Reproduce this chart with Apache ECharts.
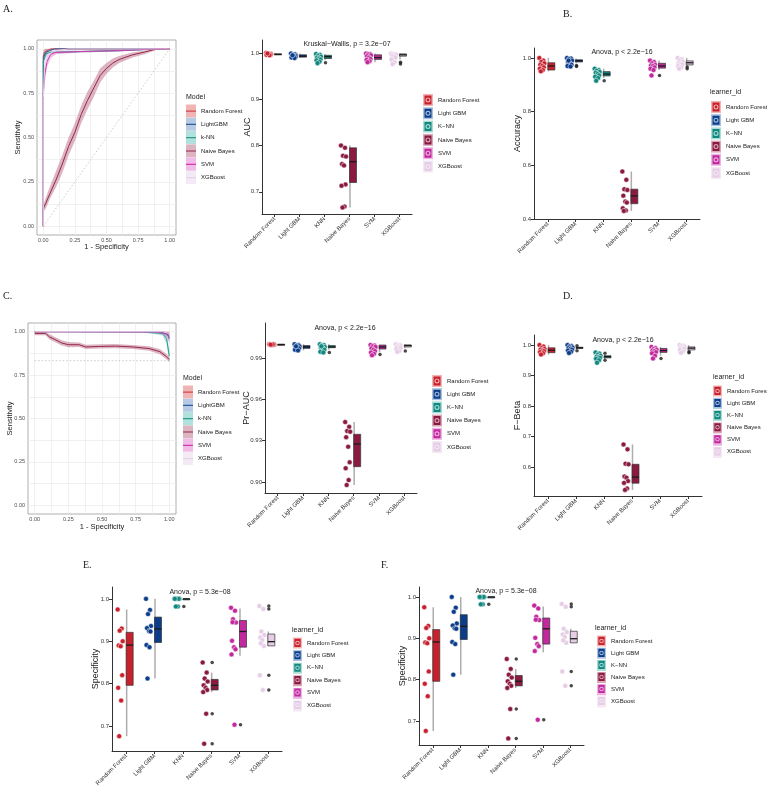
<!DOCTYPE html>
<html>
<head>
<meta charset="utf-8">
<script src="https://cdn.jsdelivr.net/npm/echarts@6/dist/echarts.min.js"></script>
<style>
  html, body { margin: 0; padding: 0; background: #fff; }
  #chart { width: 767px; height: 791px; }
</style>
</head>
<body>
<div id="chart"></div>
<script>
// ---- names ----
var rocModels = ['Random Forest', 'LightGBM', 'k-NN', 'Naive Bayes', 'SVM', 'XGBoost'];
var learners = ['Random Forest', 'Light GBM', 'K\u2212NN', 'Naive Bayes', 'SVM', 'XGBoost'];
var boxCats = ['Random Forest', 'Light GBM', 'KNN', 'Naive Bayes', 'SVM', 'XGBoost'];

// ---- ROC curves, each point [1-spec, sens, lower, upper] ----
var rocA_rf = [[0, 0, 0, 0], [0, 0.96, 0.93, 0.99], [0.01, 0.98, 0.96, 1], [0.03, 0.99, 0.98, 1], [0.06, 1, 0.995, 1], [1, 1, 1, 1]];
var rocA_lgbm = [[0, 0, 0, 0], [0, 0.95, 0.92, 0.98], [0.02, 0.98, 0.96, 0.995], [0.05, 0.99, 0.98, 1], [0.09, 1, 1, 1], [1, 1, 1, 1]];
var rocA_knn = [[0, 0, 0, 0], [0, 0.93, 0.9, 0.96], [0.02, 0.97, 0.95, 0.985], [0.05, 0.98, 0.975, 0.99], [0.3, 0.985, 0.98, 0.99], [0.6, 0.99, 0.985, 0.995], [0.85, 0.997, 0.995, 1], [1, 1, 1, 1]];
var rocA_nb = [[0, 0, 0, 0], [0, 0.1, 0.08, 0.12], [0.02, 0.13, 0.1, 0.16], [0.05, 0.18, 0.15, 0.22], [0.1, 0.26, 0.22, 0.31],
  [0.15, 0.35, 0.3, 0.4], [0.2, 0.45, 0.4, 0.5], [0.25, 0.53, 0.48, 0.58], [0.3, 0.63, 0.58, 0.68], [0.35, 0.71, 0.66, 0.76],
  [0.4, 0.78, 0.73, 0.82], [0.45, 0.85, 0.81, 0.89], [0.5, 0.89, 0.86, 0.92], [0.55, 0.92, 0.895, 0.945], [0.6, 0.94, 0.92, 0.96],
  [0.7, 0.965, 0.95, 0.98], [0.8, 0.982, 0.97, 0.99], [0.9, 1, 0.995, 1], [1, 1, 1, 1]];
var rocA_svm = [[0, 0, 0, 0], [0, 0.75, 0.7, 0.82], [0.01, 0.85, 0.8, 0.9], [0.03, 0.93, 0.9, 0.96], [0.06, 0.97, 0.95, 0.985], [0.1, 0.98, 0.97, 0.99], [0.3, 0.985, 0.98, 0.99], [0.6, 0.99, 0.985, 0.995], [0.85, 0.998, 0.995, 1], [1, 1, 1, 1]];
var rocA_xgb = [[0, 0, 0, 0], [0, 0.72, 0.6, 0.85], [0.01, 0.9, 0.85, 0.95], [0.04, 0.97, 0.95, 0.99], [0.1, 0.99, 0.98, 1], [0.2, 1, 1, 1], [1, 1, 1, 1]];

var rocC_rf = [[0, 1, 1, 1], [0.9, 1, 1, 1], [0.98, 0.995, 0.99, 1], [1, 0.99, 0.98, 1]];
var rocC_lgbm = [[0, 1, 1, 1], [0.85, 1, 0.998, 1], [0.95, 0.995, 0.99, 1], [0.99, 0.985, 0.97, 0.995], [1, 0.96, 0.93, 0.99]];
var rocC_knn = [[0, 1, 1, 1], [0.8, 0.998, 0.995, 1], [0.95, 0.99, 0.98, 0.995], [0.98, 0.96, 0.93, 0.98], [1, 0.86, 0.83, 0.9]];
var rocC_nb = [[0, 0.99, 0.98, 1], [0.08, 0.99, 0.98, 1], [0.11, 0.97, 0.955, 0.985], [0.15, 0.955, 0.94, 0.97], [0.2, 0.935, 0.92, 0.95],
  [0.25, 0.925, 0.91, 0.94], [0.33, 0.925, 0.912, 0.938], [0.38, 0.912, 0.9, 0.925], [0.48, 0.915, 0.903, 0.927], [0.6, 0.917, 0.905, 0.929],
  [0.73, 0.912, 0.9, 0.924], [0.85, 0.903, 0.89, 0.916], [0.93, 0.885, 0.87, 0.9], [0.98, 0.856, 0.84, 0.872], [1, 0.84, 0.825, 0.855]];
var rocC_svm = [[0, 1, 1, 1], [0.9, 0.998, 0.995, 1], [0.97, 0.99, 0.98, 1], [1, 0.97, 0.94, 0.99]];
var rocC_xgb = [[0, 1, 1, 1], [0.95, 1, 1, 1], [1, 0.99, 0.98, 1]];
var prBaseline = 0.833;

// ---- per-fold scores: RF, LGBM, KNN, NB, SVM, XGB ----
var aucPts = [
  [1.000, 0.999, 0.998, 0.998, 0.997, 0.997, 0.996, 0.996, 0.995, 0.999],
  [0.999, 0.997, 0.996, 0.994, 0.993, 0.992, 0.991, 0.990, 0.989, 0.995],
  [0.998, 0.996, 0.994, 0.992, 0.990, 0.988, 0.986, 0.984, 0.981, 0.978],
  [0.800, 0.795, 0.778, 0.776, 0.760, 0.757, 0.716, 0.713, 0.668, 0.666],
  [0.999, 0.998, 0.997, 0.995, 0.993, 0.990, 0.987, 0.985, 0.982, 0.980],
  [0.999, 0.998, 0.997, 0.996, 0.995, 0.993, 0.990, 0.986, 0.980, 0.976]
];
var aucBox = [[0.995, 0.996, 0.997, 0.998, 1.0], [0.989, 0.991, 0.993, 0.996, 0.999], [0.984, 0.988, 0.992, 0.995, 0.998],
  [0.666, 0.72, 0.765, 0.795, 0.800], [0.980, 0.986, 0.990, 0.996, 0.999], [0.986, 0.993, 0.996, 0.998, 0.999]];
var aucOut = [[2, 0.979], [5, 0.980], [5, 0.976]];

var accPts = [
  [1.0, 0.99, 0.985, 0.98, 0.975, 0.97, 0.965, 0.96, 0.955, 0.95],
  [1.0, 0.998, 0.995, 0.99, 0.985, 0.98, 0.975, 0.97, 0.968, 0.99],
  [0.96, 0.955, 0.952, 0.948, 0.945, 0.94, 0.935, 0.93, 0.925, 0.915],
  [0.577, 0.546, 0.511, 0.508, 0.487, 0.465, 0.461, 0.44, 0.432, 0.43],
  [0.99, 0.985, 0.98, 0.975, 0.972, 0.97, 0.965, 0.96, 0.955, 0.935],
  [1.0, 0.995, 0.99, 0.985, 0.98, 0.978, 0.975, 0.97, 0.965, 0.96]
];
var accBox = [[0.95, 0.955, 0.97, 0.982, 1.0], [0.98, 0.985, 0.99, 0.993, 0.998], [0.925, 0.933, 0.94, 0.949, 0.96],
  [0.43, 0.457, 0.486, 0.511, 0.577], [0.955, 0.962, 0.97, 0.98, 0.99], [0.97, 0.974, 0.982, 0.989, 1.0]];
var accOut = [[1, 0.972], [1, 0.968], [2, 0.915], [4, 0.935], [5, 0.966], [5, 0.96]];

var prPts = [
  [1.0, 1.0, 0.9998, 0.9997, 0.9996, 0.9995, 1.0, 0.9999, 0.9998, 0.9997],
  [1.0, 0.9995, 0.999, 0.9985, 0.998, 0.9975, 0.997, 0.996, 0.9955, 0.9985],
  [1.0, 0.9995, 0.999, 0.998, 0.9975, 0.997, 0.996, 0.9945, 0.994, 0.9985],
  [0.9435, 0.940, 0.937, 0.9365, 0.9325, 0.9256, 0.9143, 0.910, 0.9014, 0.8978],
  [0.9995, 0.999, 0.9985, 0.998, 0.997, 0.996, 0.995, 0.994, 0.993, 0.992],
  [1.0, 0.9995, 0.999, 0.9985, 0.998, 0.9975, 0.997, 0.9965, 0.995, 0.9945]
];
var prBox = [[0.9995, 0.9997, 0.9998, 0.9999, 1.0], [0.9955, 0.997, 0.998, 0.999, 1.0], [0.996, 0.9975, 0.998, 0.999, 1.0],
  [0.8978, 0.9111, 0.9276, 0.9346, 0.9435], [0.994, 0.9965, 0.998, 0.9994, 0.9995], [0.997, 0.998, 0.999, 0.9995, 1.0]];
var prOut = [[2, 0.994], [4, 0.9925], [5, 0.995]];

var fbPts = [
  [1.0, 0.995, 0.99, 0.987, 0.985, 0.982, 0.98, 0.977, 0.973, 0.969],
  [1.0, 0.997, 0.995, 0.992, 0.99, 0.988, 0.985, 0.982, 0.978, 0.974],
  [0.976, 0.972, 0.968, 0.965, 0.962, 0.96, 0.958, 0.955, 0.95, 0.942],
  [0.674, 0.658, 0.611, 0.609, 0.569, 0.565, 0.554, 0.548, 0.53, 0.525],
  [0.994, 0.99, 0.987, 0.985, 0.982, 0.98, 0.977, 0.973, 0.965, 0.956],
  [1.0, 0.998, 0.996, 0.994, 0.992, 0.99, 0.988, 0.985, 0.98, 0.975]
];
var fbBox = [[0.969, 0.975, 0.983, 0.991, 1.0], [0.986, 0.989, 0.991, 0.993, 0.995], [0.955, 0.958, 0.962, 0.965, 0.968],
  [0.525, 0.547, 0.567, 0.609, 0.674], [0.965, 0.976, 0.982, 0.989, 0.994], [0.982, 0.984, 0.99, 0.994, 1.0]];
var fbOut = [[1, 0.998], [1, 0.981], [2, 0.973], [2, 0.95], [4, 0.956], [5, 0.978], [5, 0.975]];

var specPts = [
  [0.975, 0.93, 0.925, 0.9, 0.89, 0.888, 0.82, 0.79, 0.76, 0.676],
  [1.0, 0.974, 0.964, 0.936, 0.931, 0.924, 0.923, 0.891, 0.886, 0.812],
  [1.0, 1.0, 1.0, 1.0, 1.0, 1.0, 1.0, 1.0, 0.982, 0.982],
  [0.85, 0.826, 0.812, 0.805, 0.796, 0.79, 0.785, 0.78, 0.729, 0.658],
  [0.979, 0.972, 0.952, 0.944, 0.901, 0.886, 0.881, 0.869, 0.703, 0.945],
  [0.983, 0.976, 0.923, 0.915, 0.909, 0.903, 0.889, 0.82, 0.785, 0.895]
];
var specBox = [[0.676, 0.796, 0.891, 0.921, 0.975], [0.812, 0.897, 0.929, 0.957, 1.0], [1.0, 1.0, 1.0, 1.0, 1.0],
  [0.78, 0.785, 0.796, 0.81, 0.826], [0.866, 0.886, 0.923, 0.949, 0.977], [0.889, 0.889, 0.899, 0.917, 0.923]];
var specOut = [[2, 0.982], [3, 0.85], [3, 0.729], [3, 0.658], [4, 0.703], [5, 0.983], [5, 0.976], [5, 0.82], [5, 0.785]];

// ---- tick labels ----
var rocTicks = [0, 0.25, 0.5, 0.75, 1];
var rocGridVals = [0, 0.125, 0.25, 0.375, 0.5, 0.625, 0.75, 0.875, 1];
var aucTicks = [0.7, 0.8, 0.9, 1.0];
var accTicks = [0.4, 0.6, 0.8, 1.0];
var prTicks = [0.90, 0.93, 0.96, 0.99];
var fbTicks = [0.6, 0.7, 0.8, 0.9, 1.0];
var specTicks = [0.7, 0.8, 0.9, 1.0];

// ---- styles ----
var SANS = '"Liberation Sans",Arial,sans-serif';
var SERIF = '"Liberation Serif",serif';
var rocLine = ['#d9434a', '#2c5d9c', '#2a9d8f', '#952848', '#d43aae', '#e6d2ea'];
var rocBand = ['rgba(226,120,120,0.55)', 'rgba(110,150,200,0.5)', 'rgba(100,195,185,0.5)', 'rgba(180,90,120,0.45)', 'rgba(225,120,205,0.5)', 'rgba(236,220,238,0.6)'];
var boxColors = ['#c8202c', '#0b3d8a', '#10887f', '#8b1a40', '#c2299d', '#e6cde6'];
var lightColors = ['#f2b4b4', '#a9c1de', '#abdcd6', '#d9a9ba', '#ecb2e2', '#f3e8f3'];
var jitter = [-2.5, 1.5, -0.5, 2.5, -1.5, 0.5, 2, -2, 1, -1];

function renderBox(params, api) {
  var i = api.value(0);
  var lo = api.coord([i, api.value(1)]);
  var q1 = api.coord([i, api.value(2)]);
  var md = api.coord([i, api.value(3)]);
  var q3 = api.coord([i, api.value(4)]);
  var hi = api.coord([i, api.value(5)]);
  var x0 = lo[0], w = 7;
  return {
    type: 'group',
    children: [
      {type: 'line', shape: {x1: x0 + 0.5, y1: hi[1], x2: x0 + 0.5, y2: lo[1]}, style: {stroke: '#adadad', lineWidth: 1.5}},
      {type: 'rect', shape: {x: x0, y: q3[1], width: w, height: Math.max(q1[1] - q3[1], 1)}, style: {fill: boxColors[i], stroke: '#333', lineWidth: 0.7}},
      {type: 'line', shape: {x1: x0, y1: md[1], x2: x0 + w, y2: md[1]}, style: {stroke: '#1a1a1a', lineWidth: 1.3}}
    ]
  };
}

function boxPanel(gi, pts, box, outl) {
  var s = [{
    type: 'custom', xAxisIndex: gi, yAxisIndex: gi, silent: true, z: 2,
    data: box.map(function (b, i) { return [i].concat(b); }),
    encode: {x: 0, y: [1, 2, 3, 4, 5]},
    renderItem: renderBox
  }];
  pts.forEach(function (arr, i) {
    s.push({
      type: 'scatter', name: learners[i], xAxisIndex: gi, yAxisIndex: gi, symbolSize: 5, z: 3, silent: true,
      itemStyle: {color: boxColors[i], borderColor: '#fff', borderWidth: 0.5, opacity: 1},
      data: arr.map(function (v, k) { return {value: [i, v], symbolOffset: [-6 + jitter[k % jitter.length], 0]}; })
    });
  });
  s.push({
    type: 'scatter', xAxisIndex: gi, yAxisIndex: gi, symbolSize: 3.5, z: 4, silent: true,
    itemStyle: {color: '#1a1a1a'},
    data: outl.map(function (o) { return {value: o, symbolOffset: [1, 0]}; })
  });
  return s;
}

function bandSeries(name, arr, gi, color) {
  return {
    type: 'custom', name: name, xAxisIndex: gi, yAxisIndex: gi, silent: true, z: 2,
    data: arr, encode: {x: 0, y: [1, 2, 3]},
    renderItem: function (params, api) {
      if (params.dataIndex !== 0) return null;
      var up = arr.map(function (p) { return api.coord([p[0], p[3]]); });
      var dn = arr.map(function (p) { return api.coord([p[0], p[2]]); }).reverse();
      return {type: 'polygon', shape: {points: up.concat(dn)}, style: {fill: color}};
    }
  };
}

function rocPanel(gi, curves, refLine) {
  var s = [{
    type: 'line', xAxisIndex: gi, yAxisIndex: gi, data: refLine, showSymbol: false, symbol: 'none', silent: true, z: 1,
    lineStyle: {color: '#b5b5b5', width: 0.7, type: [1.5, 2]}
  }];
  curves.forEach(function (c, i) { s.push(bandSeries(rocModels[i], c, gi, rocBand[i])); });
  curves.forEach(function (c, i) {
    s.push({
      type: 'line', name: rocModels[i], xAxisIndex: gi, yAxisIndex: gi, showSymbol: false, symbol: 'none', silent: true, z: 3,
      data: c.map(function (p) { return [p[0], p[1]]; }),
      lineStyle: {color: rocLine[i], width: 1}
    });
  });
  return s;
}

function rocX(gi, gap) {
  return {
    gridIndex: gi, type: 'value', min: -0.05, max: 1.05,
    axisLine: {show: false},
    axisTick: {show: false, customValues: rocGridVals},
    axisLabel: {customValues: rocTicks, formatter: function (v) { return v.toFixed(2); }, fontSize: 5.5, color: '#4d4d4d', margin: 2, fontFamily: SANS},
    splitLine: {show: true, lineStyle: {color: '#ebebeb', width: 0.7}},
    name: '1 - Specificity', nameLocation: 'middle', nameGap: gap, nameMoveOverlap: false,
    nameTextStyle: {fontSize: 7.5, color: '#1a1a1a', fontFamily: SANS}
  };
}
function rocY(gi, gap) {
  return {
    gridIndex: gi, type: 'value', min: -0.05, max: 1.05,
    axisLine: {show: false},
    axisTick: {show: false, customValues: rocGridVals},
    axisLabel: {customValues: rocTicks, formatter: function (v) { return v.toFixed(2); }, fontSize: 5.5, color: '#4d4d4d', margin: 3, fontFamily: SANS},
    splitLine: {show: true, lineStyle: {color: '#ebebeb', width: 0.7}},
    name: 'Sensitivity', nameLocation: 'middle', nameGap: gap, nameRotate: 90, nameMoveOverlap: false,
    nameTextStyle: {fontSize: 7.5, color: '#1a1a1a', fontFamily: SANS}
  };
}
function catX(gi) {
  return {
    gridIndex: gi, type: 'category', data: boxCats,
    axisLine: {show: true, lineStyle: {color: '#333', width: 1}},
    axisTick: {show: true, alignWithLabel: true, length: 3, lineStyle: {color: '#333'}},
    axisLabel: {rotate: 45, interval: 0, fontSize: 6, margin: 4, color: '#333', fontFamily: SANS},
    splitLine: {show: false}
  };
}
function valY(gi, min, max, ticks, dec, name, gap) {
  return {
    gridIndex: gi, type: 'value', min: min, max: max,
    axisLine: {show: true, lineStyle: {color: '#333', width: 1}},
    axisTick: {show: true, length: 3, customValues: ticks, lineStyle: {color: '#333'}},
    axisLabel: {customValues: ticks, formatter: function (v) { return v.toFixed(dec); }, fontSize: 6, color: '#333', margin: 3, fontFamily: SANS},
    splitLine: {show: false},
    name: name, nameLocation: 'middle', nameGap: gap, nameRotate: 90, nameMoveOverlap: false,
    nameTextStyle: {fontSize: 9, color: '#1a1a1a', fontFamily: SANS}
  };
}

var lineIcon = 'path://M0,0L0,0.001ZM10,13L10,13.001ZM0,6H10V7.2H0Z';
var learnerIcon = 'path://M0,0L0,0.001ZM10,12L10,12.001ZM1.5,1.5H8.5V10.5H1.5ZM5,3.5A2.5,2.5 0 1 0 5,8.5A2.5,2.5 0 1 0 5,3.5ZM5,4.6A1.4,1.4 0 1 1 5,7.4A1.4,1.4 0 1 1 5,4.6Z';

function rocLegends(left, top) {
  var base = {orient: 'vertical', left: left, top: top, itemWidth: 10, itemHeight: 13, itemGap: 0.3, padding: 0, selectedMode: false};
  return [
    Object.assign({}, base, {
      data: rocModels.map(function (n, i) { return {name: n, icon: 'rect', itemStyle: {color: rocBand[i], borderWidth: 0}}; }),
      textStyle: {color: 'rgba(0,0,0,0)', fontSize: 6, fontFamily: SANS}
    }),
    Object.assign({}, base, {
      data: rocModels.map(function (n, i) { return {name: n, icon: lineIcon, itemStyle: {color: rocLine[i], borderWidth: 0}}; }),
      textStyle: {color: '#1a1a1a', fontSize: 6, fontFamily: SANS}
    })
  ];
}
function learnerLegends(left, top, w, h, gap) {
  var base = {orient: 'vertical', left: left, top: top, itemWidth: w, itemHeight: h, itemGap: gap, padding: 0, selectedMode: false};
  return [
    Object.assign({}, base, {
      data: learners.map(function (n, i) { return {name: n, icon: 'rect', itemStyle: {color: lightColors[i], borderWidth: 0}}; }),
      textStyle: {color: 'rgba(0,0,0,0)', fontSize: 6, fontFamily: SANS}
    }),
    Object.assign({}, base, {
      data: learners.map(function (n, i) { return {name: n, icon: learnerIcon, itemStyle: {color: boxColors[i], borderWidth: 0}}; }),
      textStyle: {color: '#1a1a1a', fontSize: 6, fontFamily: SANS}
    })
  ];
}

function txt(x, y, s, size, family, align) {
  return {type: 'text', x: x, y: y, silent: true,
    style: {text: s, fontSize: size, fontFamily: family, fill: '#1a1a1a', align: align || 'left', verticalAlign: 'middle'}};
}

var series = [].concat(
  rocPanel(0, [rocA_rf, rocA_lgbm, rocA_knn, rocA_nb, rocA_svm, rocA_xgb], [[0, 0], [1, 1]]),
  boxPanel(1, aucPts, aucBox, aucOut),
  boxPanel(2, accPts, accBox, accOut),
  rocPanel(3, [rocC_rf, rocC_lgbm, rocC_knn, rocC_nb, rocC_svm, rocC_xgb], [[0, prBaseline], [1, prBaseline]]),
  boxPanel(4, prPts, prBox, prOut),
  boxPanel(5, fbPts, fbBox, fbOut),
  boxPanel(6, specPts, specBox, specOut),
  boxPanel(7, specPts, specBox, specOut)
);

var option = {
  backgroundColor: '#fff',
  animation: false,
  textStyle: {fontFamily: SANS},
  grid: [
    {left: 37, top: 40, width: 139, height: 195, show: true, borderColor: '#9a9a9a', borderWidth: 0.8, backgroundColor: '#fff'},
    {left: 262, top: 40, width: 150, height: 174},
    {left: 534, top: 48, width: 166, height: 171},
    {left: 28, top: 323, width: 148, height: 191, show: true, borderColor: '#9a9a9a', borderWidth: 0.8, backgroundColor: '#fff'},
    {left: 265, top: 323, width: 152, height: 170},
    {left: 534, top: 335, width: 168, height: 161},
    {left: 112, top: 587, width: 170, height: 164},
    {left: 419, top: 587, width: 165, height: 158}
  ],
  xAxis: [rocX(0, 8), catX(1), catX(2), rocX(3, 8.5), catX(4), catX(5), catX(6), catX(7)],
  yAxis: [
    rocY(0, 15),
    valY(1, 0.652, 1.028, aucTicks, 1, 'AUC', 10),
    valY(2, 0.4, 1.037, accTicks, 1, 'Accuracy', 11.5),
    rocY(3, 14),
    valY(4, 0.892, 1.0154, prTicks, 2, 'Pr\u2212AUC', 14),
    valY(5, 0.505, 1.033, fbTicks, 1, 'F\u2212Beta', 11.5),
    valY(6, 0.641, 1.028, specTicks, 1, 'Specificity', 12),
    valY(7, 0.642, 1.024, specTicks, 1, 'Specificity', 12)
  ],
  legend: [].concat(
    rocLegends(186, 104.5),
    learnerLegends(423, 94, 10, 12, 1.3),
    learnerLegends(711, 101, 10, 12, 1.2),
    rocLegends(183, 385.5),
    learnerLegends(432, 375, 10, 12, 1.2),
    learnerLegends(713, 385.5, 9, 11, 1.3),
    learnerLegends(293, 637.5, 9, 11, 1.6),
    learnerLegends(597, 635.5, 9, 11, 1.2)
  ),
  graphic: [
    txt(3, 9, 'A.', 10, SERIF),
    txt(563, 14, 'B.', 10, SERIF),
    txt(3, 296, 'C.', 10, SERIF),
    txt(563, 296, 'D.', 10, SERIF),
    txt(83, 565, 'E.', 10, SERIF),
    txt(381, 565, 'F.', 10, SERIF),
    txt(186, 97, 'Model', 7, SANS),
    txt(183, 378, 'Model', 7, SANS),
    txt(347, 44, 'Kruskal\u2212Wallis, p = 3.2e\u221207', 7, SANS, 'center'),
    txt(622, 52, 'Anova, p < 2.2e\u221216', 7, SANS, 'center'),
    txt(345, 328, 'Anova, p < 2.2e\u221216', 7, SANS, 'center'),
    txt(623, 340, 'Anova, p < 2.2e\u221216', 7, SANS, 'center'),
    txt(200, 592, 'Anova, p = 5.3e\u221208', 7, SANS, 'center'),
    txt(506, 591, 'Anova, p = 5.3e\u221208', 7, SANS, 'center'),
    txt(710, 92, 'learner_id', 7, SANS),
    txt(713, 377, 'learner_id', 7, SANS),
    txt(292, 630, 'learner_id', 7, SANS),
    txt(595, 628, 'learner_id', 7, SANS)
  ],
  series: series
};

var chart = echarts.init(document.getElementById('chart'));
chart.setOption(option);
</script>
</body>
</html>
